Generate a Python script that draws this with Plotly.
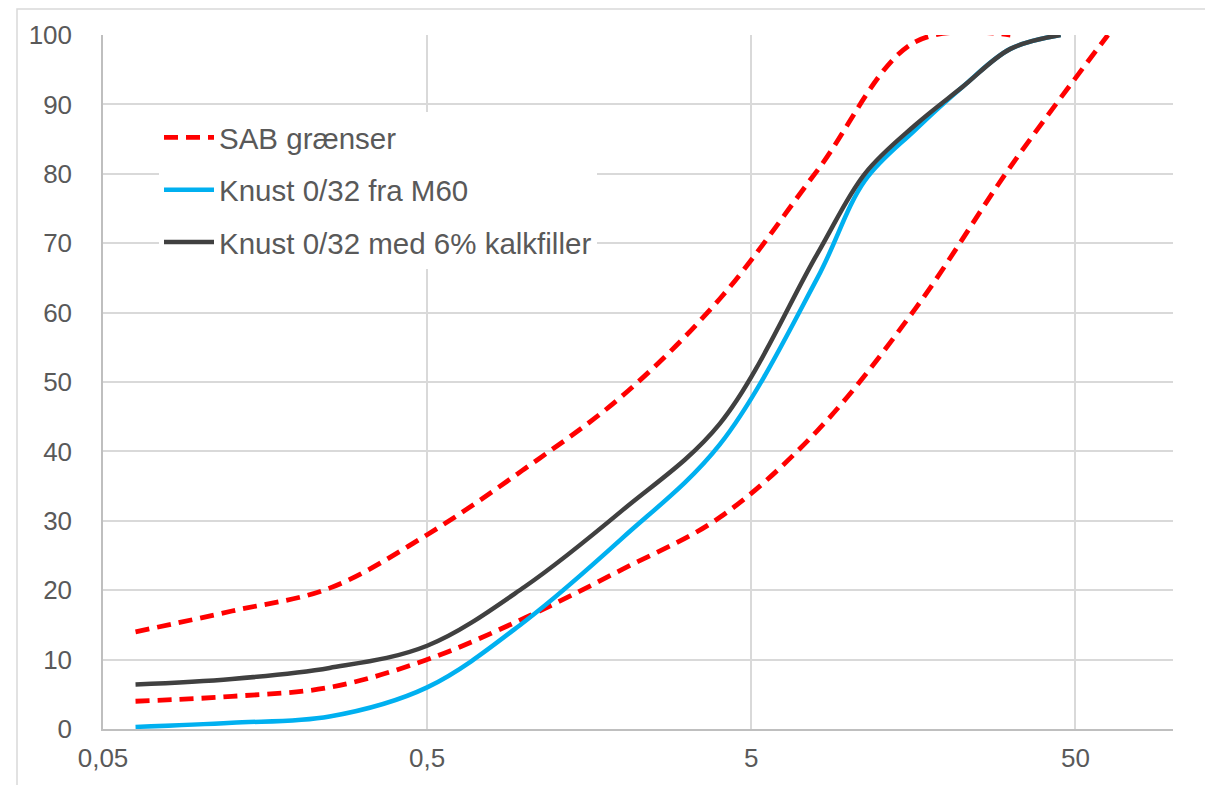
import plotly.graph_objects as go

# Sieve sizes (mm)
sieve_sab_upper = [0.063, 0.125, 0.25, 0.5, 1, 2, 4, 8, 16, 31.5]
sab_upper = [14, 17, 20.3, 28, 37.5, 48, 62, 80.5, 99, 100]

sieve_sab_lower = [0.063, 0.125, 0.25, 0.5, 1, 2, 4, 8, 16, 31.5, 63]
sab_lower = [4, 4.7, 6, 10, 16, 23, 30.5, 43, 60.5, 81, 100]

sieve_material = [0.063, 0.125, 0.25, 0.5, 1, 2, 4, 8, 11.2, 16, 22.4, 31.5, 45]
knust_m60 = [0.3, 0.9, 1.8, 6, 15.5, 27.5, 41, 65, 79, 86.3, 92.5, 98, 100]
knust_kalk = [6.4, 7.2, 8.8, 12, 20.5, 31.5, 44, 68.5, 80, 87, 92.5, 98, 100]

x_tickvals = [0.05, 0.5, 5, 50]
x_ticktext = ["0,05", "0,5", "5", "50"]
y_tickvals = [0, 10, 20, 30, 40, 50, 60, 70, 80, 90, 100]

RED = "#FF0000"
BLUE = "#00B0F0"
DARK = "#404040"
TXT = "#595959"
GRID = "#D9D9D9"

fig = go.Figure()
fig.add_trace(go.Scatter(
    x=sieve_sab_upper, y=sab_upper, mode="lines", name="SAB grænser",
    legendgroup="sab",
    line=dict(color=RED, width=4.8, dash="14px,8px", shape="spline", smoothing=1),
))
fig.add_trace(go.Scatter(
    x=sieve_sab_lower, y=sab_lower, mode="lines", name="SAB grænser",
    legendgroup="sab", showlegend=False,
    line=dict(color=RED, width=4.8, dash="14px,8px", shape="spline", smoothing=1),
))
fig.add_trace(go.Scatter(
    x=sieve_material, y=knust_m60, mode="lines", name="Knust 0/32 fra M60",
    legendgroup="m60",
    line=dict(color=BLUE, width=4.5, shape="spline", smoothing=1),
))
fig.add_trace(go.Scatter(
    x=sieve_material, y=knust_kalk, mode="lines", name="Knust 0/32 med 6% kalkfiller",
    legendgroup="kalk",
    line=dict(color=DARK, width=4.5, shape="spline", smoothing=1),
))

# page body has an 8px margin; compensate so the plot area sits at
# screen x 103..1173, y 32..729
OFF = 8
W, H = 1213, 785
PL, PR, PT, PB = 103, 1173, 32, 729
L, T = PL - OFF, PT - OFF
R = W - L - (PR - PL)
B = H - T - (PB - PT)
pw, ph = PR - PL, PB - PT

def px_x(p):
    return (p - PL) / pw

def px_y(p):
    return (PB - p) / ph

fig.update_layout(
    width=W, height=H,
    margin=dict(l=L, r=R, t=T, b=B, pad=0),
    paper_bgcolor="white", plot_bgcolor="white",
    font=dict(family="Liberation Sans, Arial, sans-serif", color=TXT),
    showlegend=True,
    legend=dict(
        x=px_x(159), y=px_y(109), xanchor="left", yanchor="top",
        bgcolor="white", borderwidth=0,
        font=dict(size=29.5, color=TXT),
        traceorder="grouped", tracegroupgap=11,
        itemwidth=50,
    ),
    xaxis=dict(
        type="log", range=[-1.30103, 2.0],
        tickvals=x_tickvals, ticktext=x_ticktext,
        tickfont=dict(size=26, color=TXT),
        showgrid=True, gridcolor=GRID, gridwidth=1.5,
        showline=True, linecolor="#BFBFBF", linewidth=1.5,
        ticks="", ticklabelstandoff=5,
        zeroline=False,
    ),
    yaxis=dict(
        range=[0, 100], tickvals=y_tickvals,
        tickfont=dict(size=26, color=TXT),
        showgrid=True, gridcolor=GRID, gridwidth=1.5,
        showline=True, linecolor="#BFBFBF", linewidth=1.5,
        ticks="", ticklabelstandoff=24,
        zeroline=False,
    ),
    shapes=[dict(
        type="rect", xref="paper", yref="paper",
        x0=px_x(17), x1=px_x(1240), y0=px_y(810), y1=px_y(6),
        line=dict(color=GRID, width=1.5), fillcolor="rgba(0,0,0,0)",
        layer="below",
    )],
)

fig.write_html("out.html")
